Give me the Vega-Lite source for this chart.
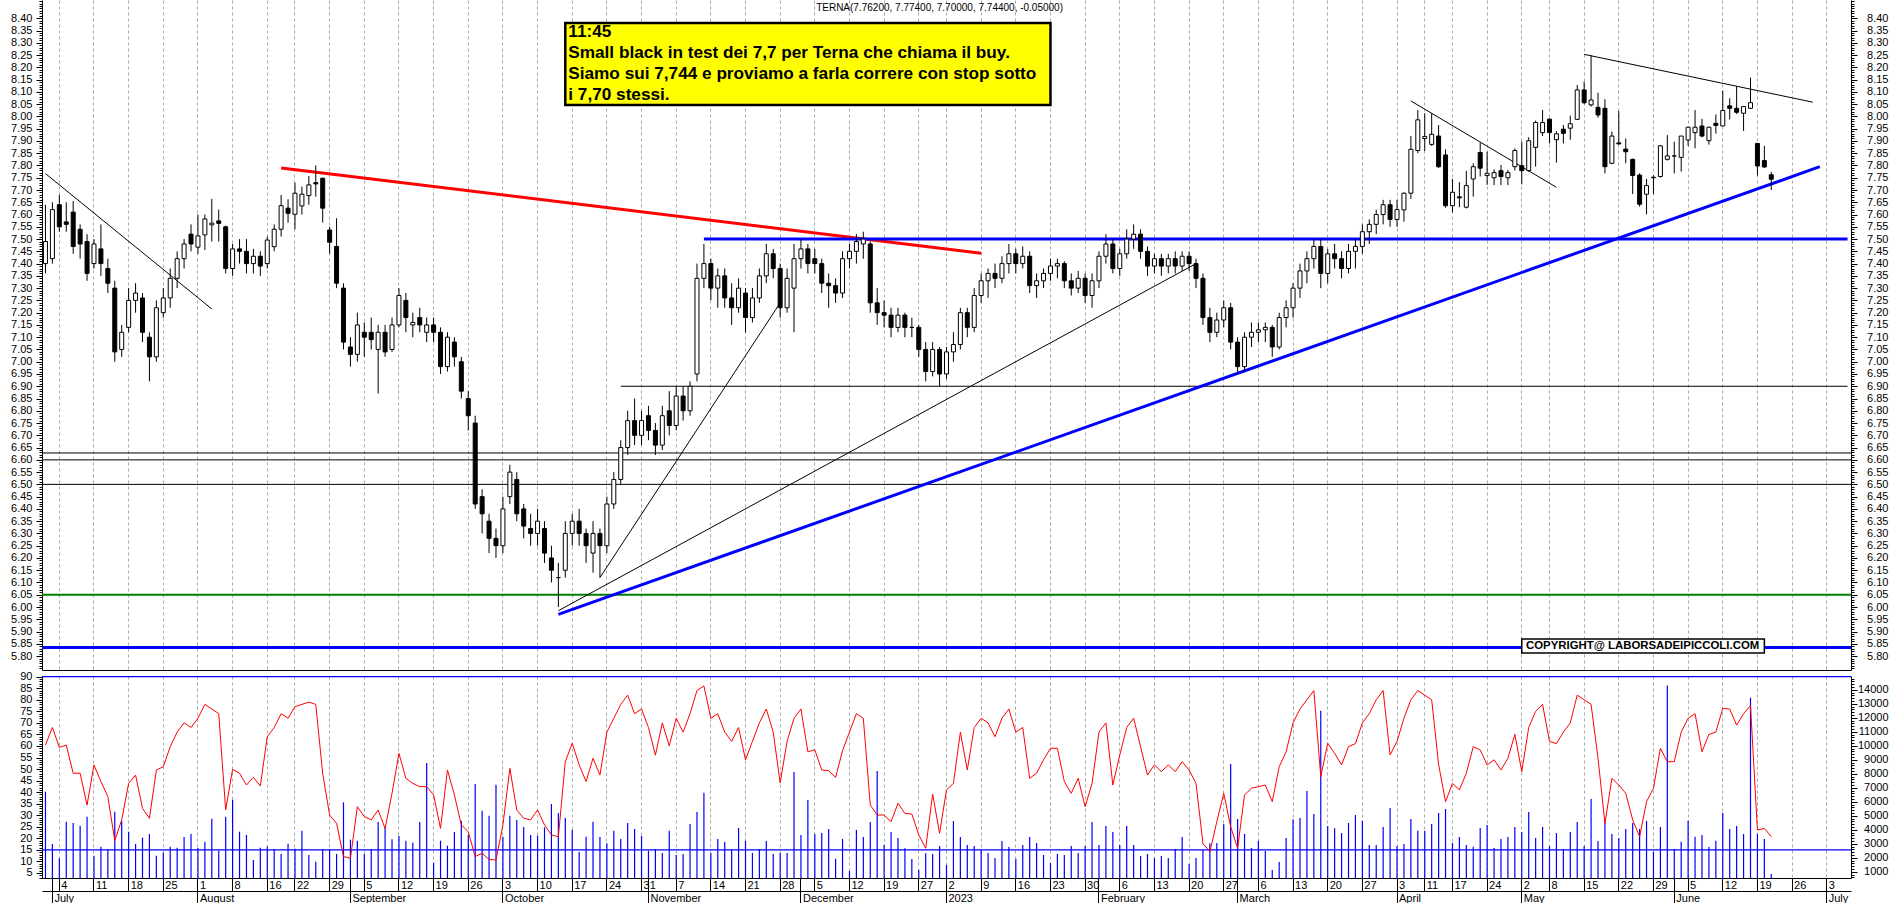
{
"$schema":"https://vega.github.io/schema/vega-lite/v6.json",
"padding":0,
"autosize":{"type":"pad"},
"background":"white",
"bounds":"flush",
"spacing":6,
"config":{"view":{"stroke":null},"axis":{"labelFont":"Liberation Sans","labelFontSize":11,"labelColor":"#000000","tickColor":"#000000","domainColor":"#000000","tickWidth":1,"domainWidth":1,"title":null}},
"datasets":{
"bars":[
{"d":"2022-06-30","o":7.40,"h":7.64,"l":7.36,"c":7.49,"v":6716,"r":60.4},
{"d":"2022-07-01","o":7.42,"h":7.65,"l":7.40,"c":7.62,"v":2978,"r":68},
{"d":"2022-07-04","o":7.64,"h":7.68,"l":7.53,"c":7.55,"v":1954,"r":59.4},
{"d":"2022-07-05","o":7.57,"h":7.65,"l":7.53,"c":7.56,"v":4574,"r":60.4},
{"d":"2022-07-06","o":7.61,"h":7.655,"l":7.44,"c":7.47,"v":4478,"r":48.2},
{"d":"2022-07-07","o":7.54,"h":7.56,"l":7.42,"c":7.48,"v":4288,"r":48.2},
{"d":"2022-07-08","o":7.49,"h":7.52,"l":7.33,"c":7.36,"v":4930,"r":34.4},
{"d":"2022-07-11","o":7.40,"h":7.50,"l":7.38,"c":7.48,"v":2145,"r":51.8},
{"d":"2022-07-12","o":7.46,"h":7.56,"l":7.35,"c":7.40,"v":2788,"r":44.6},
{"d":"2022-07-13","o":7.38,"h":7.42,"l":7.28,"c":7.32,"v":2597,"r":38.1},
{"d":"2022-07-14","o":7.30,"h":7.33,"l":7.00,"c":7.04,"v":5288,"r":19},
{"d":"2022-07-15","o":7.05,"h":7.15,"l":7.02,"c":7.12,"v":4645,"r":28},
{"d":"2022-07-18","o":7.14,"h":7.30,"l":7.12,"c":7.25,"v":3859,"r":43.8},
{"d":"2022-07-19","o":7.25,"h":7.32,"l":7.20,"c":7.28,"v":2978,"r":47.4},
{"d":"2022-07-20","o":7.26,"h":7.28,"l":7.08,"c":7.12,"v":3431,"r":33},
{"d":"2022-07-21","o":7.10,"h":7.12,"l":6.92,"c":7.02,"v":3693,"r":28.7},
{"d":"2022-07-22","o":7.02,"h":7.25,"l":7.00,"c":7.22,"v":2145,"r":49.6},
{"d":"2022-07-25","o":7.20,"h":7.30,"l":7.18,"c":7.26,"v":2359,"r":51},
{"d":"2022-07-26","o":7.26,"h":7.38,"l":7.22,"c":7.34,"v":2788,"r":59.7},
{"d":"2022-07-27","o":7.34,"h":7.45,"l":7.30,"c":7.42,"v":2716,"r":66},
{"d":"2022-07-28","o":7.42,"h":7.50,"l":7.38,"c":7.48,"v":3478,"r":70},
{"d":"2022-07-29","o":7.52,"h":7.56,"l":7.45,"c":7.48,"v":3693,"r":68},
{"d":"2022-08-01","o":7.467,"h":7.60,"l":7.44,"c":7.513,"v":2693,"r":72},
{"d":"2022-08-02","o":7.517,"h":7.60,"l":7.455,"c":7.582,"v":3145,"r":78},
{"d":"2022-08-03","o":7.558,"h":7.664,"l":7.49,"c":7.565,"v":4788,"r":76},
{"d":"2022-08-04","o":7.574,"h":7.62,"l":7.49,"c":7.564,"v":2502,"r":74},
{"d":"2022-08-05","o":7.55,"h":7.555,"l":7.36,"c":7.38,"v":4930,"r":32.3},
{"d":"2022-08-08","o":7.38,"h":7.48,"l":7.35,"c":7.46,"v":6145,"r":49.9},
{"d":"2022-08-09","o":7.46,"h":7.50,"l":7.40,"c":7.45,"v":3859,"r":48.2},
{"d":"2022-08-10","o":7.45,"h":7.50,"l":7.36,"c":7.40,"v":3621,"r":43.1},
{"d":"2022-08-11","o":7.40,"h":7.46,"l":7.36,"c":7.43,"v":1835,"r":46.4},
{"d":"2022-08-12","o":7.43,"h":7.45,"l":7.35,"c":7.39,"v":2716,"r":42.7},
{"d":"2022-08-16","o":7.40,"h":7.51,"l":7.38,"c":7.496,"v":2788,"r":64},
{"d":"2022-08-17","o":7.469,"h":7.56,"l":7.45,"c":7.54,"v":2621,"r":68},
{"d":"2022-08-18","o":7.54,"h":7.68,"l":7.51,"c":7.636,"v":2264,"r":74},
{"d":"2022-08-19","o":7.626,"h":7.662,"l":7.567,"c":7.605,"v":3002,"r":72},
{"d":"2022-08-22","o":7.601,"h":7.73,"l":7.54,"c":7.687,"v":2645,"r":77},
{"d":"2022-08-23","o":7.635,"h":7.714,"l":7.60,"c":7.683,"v":3931,"r":78},
{"d":"2022-08-24","o":7.677,"h":7.757,"l":7.64,"c":7.721,"v":2193,"r":79},
{"d":"2022-08-25","o":7.73,"h":7.80,"l":7.673,"c":7.725,"v":1716,"r":78},
{"d":"2022-08-26","o":7.748,"h":7.75,"l":7.567,"c":7.626,"v":2621,"r":48},
{"d":"2022-08-29","o":7.537,"h":7.55,"l":7.44,"c":7.487,"v":2597,"r":30.1},
{"d":"2022-08-30","o":7.47,"h":7.585,"l":7.30,"c":7.32,"v":2264,"r":26.5},
{"d":"2022-08-31","o":7.30,"h":7.32,"l":7.05,"c":7.08,"v":5955,"r":12.1},
{"d":"2022-09-01","o":7.06,"h":7.10,"l":6.98,"c":7.03,"v":3288,"r":11.4},
{"d":"2022-09-02","o":7.03,"h":7.20,"l":7.00,"c":7.15,"v":3216,"r":33.7},
{"d":"2022-09-05","o":7.12,"h":7.16,"l":7.02,"c":7.10,"v":2264,"r":29.4},
{"d":"2022-09-06","o":7.12,"h":7.18,"l":7.05,"c":7.09,"v":2621,"r":28},
{"d":"2022-09-07","o":7.05,"h":7.15,"l":6.87,"c":7.12,"v":4550,"r":32.3},
{"d":"2022-09-08","o":7.12,"h":7.15,"l":7.02,"c":7.04,"v":4145,"r":24.3},
{"d":"2022-09-09","o":7.05,"h":7.18,"l":7.04,"c":7.15,"v":3312,"r":39.5},
{"d":"2022-09-12","o":7.15,"h":7.30,"l":7.14,"c":7.27,"v":3550,"r":56.8},
{"d":"2022-09-13","o":7.25,"h":7.28,"l":7.12,"c":7.18,"v":3216,"r":46},
{"d":"2022-09-14","o":7.15,"h":7.20,"l":7.10,"c":7.16,"v":3074,"r":43.8},
{"d":"2022-09-15","o":7.18,"h":7.22,"l":7.12,"c":7.15,"v":4550,"r":42.4},
{"d":"2022-09-16","o":7.12,"h":7.18,"l":7.08,"c":7.15,"v":8764,"r":42.4},
{"d":"2022-09-19","o":7.15,"h":7.18,"l":7.08,"c":7.12,"v":1645,"r":38.8},
{"d":"2022-09-20","o":7.12,"h":7.14,"l":6.95,"c":6.98,"v":3216,"r":24.3},
{"d":"2022-09-21","o":6.98,"h":7.12,"l":6.96,"c":7.10,"v":2859,"r":49.6},
{"d":"2022-09-22","o":7.08,"h":7.10,"l":6.98,"c":7.02,"v":3836,"r":38.8},
{"d":"2022-09-23","o":7.00,"h":7.02,"l":6.85,"c":6.88,"v":4645,"r":25.8},
{"d":"2022-09-26","o":6.85,"h":6.88,"l":6.72,"c":6.78,"v":3621,"r":22.9},
{"d":"2022-09-27","o":6.75,"h":6.78,"l":6.40,"c":6.42,"v":7264,"r":12.1},
{"d":"2022-09-28","o":6.45,"h":6.48,"l":6.30,"c":6.38,"v":5359,"r":13.5},
{"d":"2022-09-29","o":6.35,"h":6.38,"l":6.22,"c":6.28,"v":5002,"r":10.9},
{"d":"2022-09-30","o":6.28,"h":6.32,"l":6.20,"c":6.25,"v":7216,"r":10.6},
{"d":"2022-10-03","o":6.25,"h":6.45,"l":6.22,"c":6.40,"v":3502,"r":25.8},
{"d":"2022-10-04","o":6.45,"h":6.58,"l":6.42,"c":6.55,"v":5002,"r":50.3},
{"d":"2022-10-05","o":6.52,"h":6.55,"l":6.35,"c":6.38,"v":4693,"r":32.3},
{"d":"2022-10-06","o":6.40,"h":6.42,"l":6.28,"c":6.33,"v":4193,"r":28.7},
{"d":"2022-10-07","o":6.32,"h":6.38,"l":6.25,"c":6.30,"v":3621,"r":28},
{"d":"2022-10-10","o":6.30,"h":6.40,"l":6.25,"c":6.35,"v":3574,"r":32.3},
{"d":"2022-10-11","o":6.32,"h":6.35,"l":6.18,"c":6.22,"v":4169,"r":25.8},
{"d":"2022-10-12","o":6.20,"h":6.25,"l":6.10,"c":6.15,"v":5835,"r":21.5},
{"d":"2022-10-13","o":6.12,"h":6.18,"l":6.00,"c":6.12,"v":5192,"r":20.7},
{"d":"2022-10-14","o":6.15,"h":6.35,"l":6.12,"c":6.30,"v":4835,"r":53.2},
{"d":"2022-10-17","o":6.30,"h":6.38,"l":6.25,"c":6.35,"v":4002,"r":61.2},
{"d":"2022-10-18","o":6.35,"h":6.40,"l":6.25,"c":6.30,"v":2407,"r":51.8},
{"d":"2022-10-19","o":6.30,"h":6.32,"l":6.18,"c":6.25,"v":3502,"r":44.6},
{"d":"2022-10-20","o":6.22,"h":6.35,"l":6.14,"c":6.30,"v":4574,"r":54.7},
{"d":"2022-10-21","o":6.30,"h":6.32,"l":6.12,"c":6.25,"v":3478,"r":47.4},
{"d":"2022-10-24","o":6.25,"h":6.45,"l":6.22,"c":6.42,"v":3026,"r":66},
{"d":"2022-10-25","o":6.42,"h":6.55,"l":6.40,"c":6.52,"v":3931,"r":72},
{"d":"2022-10-26","o":6.52,"h":6.68,"l":6.50,"c":6.65,"v":3336,"r":78},
{"d":"2022-10-27","o":6.65,"h":6.80,"l":6.62,"c":6.76,"v":4478,"r":82},
{"d":"2022-10-28","o":6.76,"h":6.85,"l":6.66,"c":6.70,"v":4050,"r":74},
{"d":"2022-10-31","o":6.70,"h":6.80,"l":6.66,"c":6.76,"v":3550,"r":76},
{"d":"2022-11-01","o":6.78,"h":6.82,"l":6.68,"c":6.72,"v":2502,"r":68},
{"d":"2022-11-02","o":6.72,"h":6.75,"l":6.62,"c":6.66,"v":2597,"r":56},
{"d":"2022-11-03","o":6.66,"h":6.82,"l":6.64,"c":6.78,"v":2336,"r":70},
{"d":"2022-11-04","o":6.80,"h":6.88,"l":6.70,"c":6.74,"v":3931,"r":60},
{"d":"2022-11-07","o":6.74,"h":6.90,"l":6.72,"c":6.86,"v":2193,"r":72},
{"d":"2022-11-08","o":6.86,"h":6.90,"l":6.76,"c":6.80,"v":2264,"r":66},
{"d":"2022-11-09","o":6.80,"h":6.92,"l":6.78,"c":6.90,"v":4407,"r":74},
{"d":"2022-11-10","o":6.95,"h":7.40,"l":6.92,"c":7.34,"v":5264,"r":84},
{"d":"2022-11-11","o":7.34,"h":7.48,"l":7.30,"c":7.40,"v":6645,"r":86},
{"d":"2022-11-14","o":7.40,"h":7.42,"l":7.25,"c":7.30,"v":2336,"r":72},
{"d":"2022-11-15","o":7.30,"h":7.38,"l":7.22,"c":7.35,"v":3336,"r":74},
{"d":"2022-11-16","o":7.35,"h":7.38,"l":7.22,"c":7.26,"v":3121,"r":66},
{"d":"2022-11-17","o":7.26,"h":7.32,"l":7.15,"c":7.22,"v":2574,"r":62},
{"d":"2022-11-18","o":7.22,"h":7.34,"l":7.20,"c":7.30,"v":4121,"r":68},
{"d":"2022-11-21","o":7.28,"h":7.30,"l":7.12,"c":7.18,"v":3193,"r":54},
{"d":"2022-11-22","o":7.18,"h":7.30,"l":7.16,"c":7.26,"v":2336,"r":62},
{"d":"2022-11-23","o":7.26,"h":7.38,"l":7.24,"c":7.35,"v":2597,"r":70},
{"d":"2022-11-24","o":7.35,"h":7.48,"l":7.32,"c":7.44,"v":3193,"r":76},
{"d":"2022-11-25","o":7.44,"h":7.46,"l":7.34,"c":7.38,"v":2264,"r":66},
{"d":"2022-11-28","o":7.38,"h":7.40,"l":7.18,"c":7.22,"v":2336,"r":44},
{"d":"2022-11-29","o":7.22,"h":7.38,"l":7.20,"c":7.34,"v":2336,"r":62},
{"d":"2022-11-30","o":7.30,"h":7.48,"l":7.12,"c":7.42,"v":8121,"r":72},
{"d":"2022-12-01","o":7.42,"h":7.50,"l":7.38,"c":7.46,"v":3621,"r":76},
{"d":"2022-12-02","o":7.46,"h":7.48,"l":7.36,"c":7.40,"v":6121,"r":57.5},
{"d":"2022-12-05","o":7.42,"h":7.46,"l":7.36,"c":7.40,"v":3693,"r":58.3},
{"d":"2022-12-06","o":7.40,"h":7.42,"l":7.28,"c":7.32,"v":3764,"r":49.6},
{"d":"2022-12-07","o":7.32,"h":7.36,"l":7.22,"c":7.31,"v":4050,"r":49.3},
{"d":"2022-12-08","o":7.31,"h":7.34,"l":7.24,"c":7.28,"v":1931,"r":46.4},
{"d":"2022-12-09","o":7.28,"h":7.45,"l":7.26,"c":7.42,"v":3336,"r":58},
{"d":"2022-12-12","o":7.42,"h":7.48,"l":7.38,"c":7.45,"v":1050,"r":66},
{"d":"2022-12-13","o":7.45,"h":7.52,"l":7.40,"c":7.49,"v":3978,"r":74},
{"d":"2022-12-14","o":7.48,"h":7.53,"l":7.42,"c":7.50,"v":3478,"r":72},
{"d":"2022-12-15","o":7.48,"h":7.49,"l":7.20,"c":7.24,"v":4550,"r":34.4},
{"d":"2022-12-16","o":7.24,"h":7.30,"l":7.15,"c":7.20,"v":8193,"r":30.1},
{"d":"2022-12-19","o":7.20,"h":7.25,"l":7.14,"c":7.19,"v":2907,"r":30.1},
{"d":"2022-12-20","o":7.19,"h":7.22,"l":7.10,"c":7.14,"v":3836,"r":27.2},
{"d":"2022-12-21","o":7.14,"h":7.22,"l":7.12,"c":7.19,"v":3407,"r":35.2},
{"d":"2022-12-22","o":7.19,"h":7.20,"l":7.10,"c":7.14,"v":2669,"r":30.8},
{"d":"2022-12-23","o":7.14,"h":7.18,"l":7.10,"c":7.14,"v":1907,"r":30.5},
{"d":"2022-12-27","o":7.14,"h":7.15,"l":7.02,"c":7.05,"v":1121,"r":21.5},
{"d":"2022-12-28","o":7.05,"h":7.08,"l":6.92,"c":6.96,"v":2312,"r":15.7},
{"d":"2022-12-29","o":6.96,"h":7.08,"l":6.94,"c":7.05,"v":2264,"r":39.2},
{"d":"2022-12-30","o":7.05,"h":7.06,"l":6.90,"c":6.95,"v":2836,"r":22.2},
{"d":"2023-01-02","o":6.95,"h":7.06,"l":6.93,"c":7.04,"v":1478,"r":41},
{"d":"2023-01-03","o":7.04,"h":7.12,"l":7.00,"c":7.07,"v":4621,"r":43.8},
{"d":"2023-01-04","o":7.07,"h":7.22,"l":7.05,"c":7.20,"v":3478,"r":66},
{"d":"2023-01-05","o":7.20,"h":7.22,"l":7.10,"c":7.14,"v":2907,"r":49.6},
{"d":"2023-01-06","o":7.14,"h":7.30,"l":7.12,"c":7.27,"v":2836,"r":68},
{"d":"2023-01-09","o":7.27,"h":7.36,"l":7.24,"c":7.33,"v":2550,"r":72},
{"d":"2023-01-10","o":7.33,"h":7.38,"l":7.26,"c":7.36,"v":2336,"r":70},
{"d":"2023-01-11","o":7.36,"h":7.40,"l":7.30,"c":7.34,"v":1979,"r":64},
{"d":"2023-01-12","o":7.34,"h":7.43,"l":7.32,"c":7.40,"v":3193,"r":72},
{"d":"2023-01-13","o":7.40,"h":7.48,"l":7.36,"c":7.44,"v":2764,"r":76},
{"d":"2023-01-16","o":7.44,"h":7.46,"l":7.36,"c":7.40,"v":1907,"r":66},
{"d":"2023-01-17","o":7.40,"h":7.47,"l":7.38,"c":7.43,"v":2907,"r":68},
{"d":"2023-01-18","o":7.43,"h":7.45,"l":7.28,"c":7.31,"v":3478,"r":46},
{"d":"2023-01-19","o":7.31,"h":7.36,"l":7.26,"c":7.33,"v":3050,"r":48.2},
{"d":"2023-01-20","o":7.33,"h":7.38,"l":7.30,"c":7.36,"v":2193,"r":54},
{"d":"2023-01-23","o":7.36,"h":7.42,"l":7.33,"c":7.39,"v":1621,"r":59},
{"d":"2023-01-24","o":7.39,"h":7.42,"l":7.34,"c":7.40,"v":2264,"r":59},
{"d":"2023-01-25","o":7.40,"h":7.41,"l":7.30,"c":7.33,"v":2193,"r":44.6},
{"d":"2023-01-26","o":7.33,"h":7.36,"l":7.27,"c":7.30,"v":2836,"r":39.5},
{"d":"2023-01-27","o":7.30,"h":7.37,"l":7.28,"c":7.34,"v":2336,"r":46},
{"d":"2023-01-30","o":7.34,"h":7.36,"l":7.24,"c":7.27,"v":2836,"r":33.7},
{"d":"2023-01-31","o":7.27,"h":7.36,"l":7.22,"c":7.33,"v":4550,"r":43.8},
{"d":"2023-02-01","o":7.33,"h":7.45,"l":7.30,"c":7.43,"v":2907,"r":66},
{"d":"2023-02-02","o":7.43,"h":7.52,"l":7.40,"c":7.48,"v":4264,"r":70},
{"d":"2023-02-03","o":7.48,"h":7.50,"l":7.36,"c":7.38,"v":3836,"r":43.1},
{"d":"2023-02-06","o":7.38,"h":7.46,"l":7.35,"c":7.44,"v":2907,"r":56.1},
{"d":"2023-02-07","o":7.44,"h":7.54,"l":7.42,"c":7.50,"v":4264,"r":68},
{"d":"2023-02-08","o":7.50,"h":7.56,"l":7.46,"c":7.52,"v":2907,"r":72},
{"d":"2023-02-09","o":7.52,"h":7.54,"l":7.42,"c":7.45,"v":2121,"r":59.7},
{"d":"2023-02-10","o":7.45,"h":7.47,"l":7.35,"c":7.39,"v":2264,"r":47.4},
{"d":"2023-02-13","o":7.39,"h":7.44,"l":7.36,"c":7.42,"v":1979,"r":51.8},
{"d":"2023-02-14","o":7.42,"h":7.44,"l":7.35,"c":7.39,"v":2121,"r":48.9},
{"d":"2023-02-15","o":7.39,"h":7.44,"l":7.36,"c":7.42,"v":1979,"r":51.8},
{"d":"2023-02-16","o":7.42,"h":7.45,"l":7.36,"c":7.39,"v":2621,"r":48.9},
{"d":"2023-02-17","o":7.39,"h":7.45,"l":7.37,"c":7.43,"v":3478,"r":53.2},
{"d":"2023-02-20","o":7.43,"h":7.45,"l":7.37,"c":7.40,"v":1550,"r":49.6},
{"d":"2023-02-21","o":7.40,"h":7.42,"l":7.30,"c":7.34,"v":1979,"r":43.8},
{"d":"2023-02-22","o":7.34,"h":7.36,"l":7.15,"c":7.18,"v":2550,"r":17.8},
{"d":"2023-02-23","o":7.18,"h":7.22,"l":7.08,"c":7.12,"v":3026,"r":14.2},
{"d":"2023-02-24","o":7.12,"h":7.20,"l":7.10,"c":7.17,"v":3050,"r":27.2},
{"d":"2023-02-27","o":7.17,"h":7.25,"l":7.14,"c":7.22,"v":4407,"r":39.5},
{"d":"2023-02-28","o":7.22,"h":7.24,"l":7.05,"c":7.08,"v":8693,"r":25},
{"d":"2023-03-01","o":7.08,"h":7.10,"l":6.95,"c":6.98,"v":4764,"r":15.7},
{"d":"2023-03-02","o":6.98,"h":7.12,"l":6.96,"c":7.10,"v":3693,"r":38.8},
{"d":"2023-03-03","o":7.10,"h":7.16,"l":7.06,"c":7.12,"v":2693,"r":41.7},
{"d":"2023-03-06","o":7.12,"h":7.16,"l":7.08,"c":7.13,"v":3193,"r":42.4},
{"d":"2023-03-07","o":7.13,"h":7.16,"l":7.08,"c":7.14,"v":2479,"r":43.1},
{"d":"2023-03-08","o":7.14,"h":7.15,"l":7.02,"c":7.06,"v":1121,"r":35.9},
{"d":"2023-03-09","o":7.06,"h":7.20,"l":7.05,"c":7.18,"v":1693,"r":51},
{"d":"2023-03-10","o":7.18,"h":7.25,"l":7.14,"c":7.22,"v":3407,"r":57.5},
{"d":"2023-03-13","o":7.22,"h":7.32,"l":7.18,"c":7.30,"v":4750,"r":70},
{"d":"2023-03-14","o":7.30,"h":7.40,"l":7.26,"c":7.37,"v":4835,"r":76},
{"d":"2023-03-15","o":7.37,"h":7.45,"l":7.32,"c":7.42,"v":6764,"r":80},
{"d":"2023-03-16","o":7.42,"h":7.50,"l":7.38,"c":7.47,"v":5121,"r":84},
{"d":"2023-03-17","o":7.47,"h":7.50,"l":7.30,"c":7.36,"v":12500,"r":46.7},
{"d":"2023-03-20","o":7.36,"h":7.46,"l":7.32,"c":7.44,"v":4264,"r":61.2},
{"d":"2023-03-21","o":7.44,"h":7.48,"l":7.38,"c":7.42,"v":4098,"r":56.8},
{"d":"2023-03-22","o":7.42,"h":7.45,"l":7.34,"c":7.38,"v":3764,"r":51.8},
{"d":"2023-03-23","o":7.38,"h":7.48,"l":7.36,"c":7.45,"v":4478,"r":59.7},
{"d":"2023-03-24","o":7.45,"h":7.50,"l":7.38,"c":7.47,"v":5050,"r":61},
{"d":"2023-03-27","o":7.47,"h":7.56,"l":7.44,"c":7.53,"v":4645,"r":70},
{"d":"2023-03-28","o":7.53,"h":7.58,"l":7.48,"c":7.56,"v":2907,"r":74},
{"d":"2023-03-29","o":7.56,"h":7.62,"l":7.52,"c":7.60,"v":2907,"r":80},
{"d":"2023-03-30","o":7.60,"h":7.66,"l":7.56,"c":7.64,"v":4193,"r":84},
{"d":"2023-03-31","o":7.64,"h":7.66,"l":7.55,"c":7.58,"v":5550,"r":56.1},
{"d":"2023-04-03","o":7.58,"h":7.66,"l":7.55,"c":7.62,"v":2836,"r":62},
{"d":"2023-04-04","o":7.619,"h":7.69,"l":7.571,"c":7.687,"v":2978,"r":72},
{"d":"2023-04-05","o":7.687,"h":7.92,"l":7.664,"c":7.866,"v":4764,"r":80},
{"d":"2023-04-06","o":7.861,"h":8.026,"l":7.85,"c":7.986,"v":3931,"r":84},
{"d":"2023-04-11","o":7.91,"h":8.013,"l":7.859,"c":7.918,"v":3931,"r":82},
{"d":"2023-04-12","o":7.886,"h":8.013,"l":7.88,"c":7.927,"v":4407,"r":80},
{"d":"2023-04-13","o":7.92,"h":7.965,"l":7.79,"c":7.795,"v":5193,"r":52},
{"d":"2023-04-14","o":7.843,"h":7.866,"l":7.628,"c":7.636,"v":5478,"r":35.9},
{"d":"2023-04-17","o":7.636,"h":7.745,"l":7.609,"c":7.691,"v":3050,"r":43.8},
{"d":"2023-04-18","o":7.672,"h":7.732,"l":7.63,"c":7.668,"v":3478,"r":41},
{"d":"2023-04-19","o":7.63,"h":7.778,"l":7.625,"c":7.718,"v":2907,"r":48.2},
{"d":"2023-04-20","o":7.745,"h":7.809,"l":7.673,"c":7.795,"v":2788,"r":59.7},
{"d":"2023-04-21","o":7.853,"h":7.893,"l":7.755,"c":7.789,"v":4121,"r":58.3},
{"d":"2023-04-24","o":7.759,"h":7.856,"l":7.721,"c":7.768,"v":4336,"r":51.8},
{"d":"2023-04-25","o":7.75,"h":7.784,"l":7.72,"c":7.771,"v":2693,"r":54},
{"d":"2023-04-26","o":7.779,"h":7.802,"l":7.72,"c":7.755,"v":3336,"r":49.6},
{"d":"2023-04-27","o":7.75,"h":7.782,"l":7.72,"c":7.771,"v":3478,"r":54.7},
{"d":"2023-04-28","o":7.795,"h":7.87,"l":7.78,"c":7.861,"v":4193,"r":65},
{"d":"2023-05-02","o":7.799,"h":7.897,"l":7.723,"c":7.779,"v":3836,"r":48.9},
{"d":"2023-05-03","o":7.779,"h":7.915,"l":7.775,"c":7.901,"v":5264,"r":68},
{"d":"2023-05-04","o":7.874,"h":7.983,"l":7.795,"c":7.975,"v":3407,"r":75},
{"d":"2023-05-05","o":7.934,"h":8.026,"l":7.92,"c":7.975,"v":4193,"r":78},
{"d":"2023-05-08","o":7.989,"h":7.992,"l":7.89,"c":7.934,"v":2836,"r":62},
{"d":"2023-05-09","o":7.905,"h":7.94,"l":7.812,"c":7.929,"v":3764,"r":61},
{"d":"2023-05-10","o":7.948,"h":7.965,"l":7.89,"c":7.931,"v":2621,"r":66},
{"d":"2023-05-11","o":7.952,"h":8.003,"l":7.905,"c":7.970,"v":3836,"r":70},
{"d":"2023-05-12","o":7.988,"h":8.128,"l":7.985,"c":8.108,"v":4550,"r":82},
{"d":"2023-05-15","o":8.108,"h":8.142,"l":8.05,"c":8.056,"v":2836,"r":80},
{"d":"2023-05-16","o":8.047,"h":8.25,"l":8.04,"c":8.067,"v":6193,"r":78},
{"d":"2023-05-17","o":8.037,"h":8.097,"l":7.995,"c":8.006,"v":3193,"r":54.7},
{"d":"2023-05-18","o":8.033,"h":8.07,"l":7.768,"c":7.795,"v":4550,"r":26.5},
{"d":"2023-05-19","o":7.809,"h":7.938,"l":7.805,"c":7.920,"v":3693,"r":46},
{"d":"2023-05-22","o":7.892,"h":8.022,"l":7.885,"c":7.888,"v":3407,"r":43.1},
{"d":"2023-05-23","o":7.867,"h":7.91,"l":7.809,"c":7.856,"v":4050,"r":39.5},
{"d":"2023-05-24","o":7.825,"h":7.828,"l":7.684,"c":7.759,"v":4478,"r":28},
{"d":"2023-05-25","o":7.761,"h":7.768,"l":7.632,"c":7.642,"v":4050,"r":20.7},
{"d":"2023-05-26","o":7.683,"h":7.745,"l":7.601,"c":7.718,"v":4621,"r":35.9},
{"d":"2023-05-29","o":7.752,"h":7.76,"l":7.684,"c":7.750,"v":2431,"r":41.7},
{"d":"2023-05-30","o":7.755,"h":7.884,"l":7.75,"c":7.880,"v":4193,"r":59},
{"d":"2023-05-31","o":7.825,"h":7.924,"l":7.82,"c":7.839,"v":14300,"r":53.2},
{"d":"2023-06-01","o":7.839,"h":7.897,"l":7.768,"c":7.839,"v":2621,"r":53.2},
{"d":"2023-06-02","o":7.833,"h":7.92,"l":7.775,"c":7.920,"v":3145,"r":66},
{"d":"2023-06-05","o":7.904,"h":7.958,"l":7.880,"c":7.956,"v":4645,"r":72},
{"d":"2023-06-06","o":7.934,"h":8.026,"l":7.870,"c":7.956,"v":3502,"r":74},
{"d":"2023-06-07","o":7.961,"h":7.99,"l":7.915,"c":7.920,"v":3621,"r":57.5},
{"d":"2023-06-08","o":7.901,"h":7.958,"l":7.885,"c":7.956,"v":2764,"r":65},
{"d":"2023-06-09","o":7.972,"h":8.008,"l":7.93,"c":7.963,"v":3216,"r":66},
{"d":"2023-06-12","o":7.961,"h":8.105,"l":7.961,"c":8.024,"v":5193,"r":76.3},
{"d":"2023-06-13","o":8.043,"h":8.074,"l":7.988,"c":8.033,"v":4050,"r":76},
{"d":"2023-06-14","o":8.033,"h":8.124,"l":8.01,"c":8.017,"v":4264,"r":69},
{"d":"2023-06-15","o":8.013,"h":8.04,"l":7.941,"c":8.040,"v":3693,"r":74},
{"d":"2023-06-16","o":8.033,"h":8.158,"l":8.03,"c":8.056,"v":13430,"r":77.5},
{"d":"2023-06-19","o":7.890,"h":7.89,"l":7.759,"c":7.798,"v":3693,"r":23.6},
{"d":"2023-06-20","o":7.820,"h":7.880,"l":7.790,"c":7.794,"v":3336,"r":24.3},
{"d":"2023-06-21","o":7.762,"h":7.774,"l":7.700,"c":7.744,"v":836,"r":20.7}
],
"tl":[
{"id":"dl1","d":"2022-06-30","p":7.767},{"id":"dl1","d":"2022-08-03","p":7.215},
{"id":"res","d":"2022-08-18","p":7.79},{"id":"res","d":"2023-01-09","p":7.442},
{"id":"sup","d":"2022-10-13","p":5.97},{"id":"sup","d":"2023-06-30","p":7.795},
{"id":"a","d":"2022-10-21","p":6.12},{"id":"a","d":"2022-11-28","p":7.24},
{"id":"b","d":"2022-10-13","p":5.985},{"id":"b","d":"2023-02-21","p":7.40},
{"id":"dl2","d":"2023-04-05","p":8.063},{"id":"dl2","d":"2023-05-09","p":7.711},
{"id":"dl3","d":"2023-05-15","p":8.253},{"id":"dl3","d":"2023-06-29","p":8.058},
{"id":"h750","d":"2022-11-11","p":7.50},{"id":"h750","d":"2023-07-06","p":7.50},
{"id":"h690","d":"2022-10-26","p":6.90},{"id":"h690","d":"2023-07-06","p":6.90}
],
"hl":[{"id":"r1","p":6.628},{"id":"r2","p":6.60},{"id":"r3","p":6.50},{"id":"s1","p":6.05},{"id":"s2","p":5.835}],
"rl":[{"id":"top","r":90},{"id":"low","r":15}],
"note":[{"k":"n"}]
},
"vconcat":[
{
"width":1809,"height":670,
"resolve":{"axis":{"x":"independent","y":"independent"}},
"layer":[
{"data":{"name":"hl"},"transform":[{"filter":"indexof(['r1','r2','r3'], datum.id) >= 0"}],
 "mark":{"type":"rule","color":"#000000","strokeWidth":1},
 "encoding":{"y":{"field":"p","type":"quantitative","scale":{"domain":[5.7433,8.4746],"nice":false,"zero":false},
   "axis":{"orient":"left","values":[5.8,5.85,5.9,5.95,6,6.05,6.1,6.15,6.2,6.25,6.3,6.35,6.4,6.45,6.5,6.55,6.6,6.65,6.7,6.75,6.8,6.85,6.9,6.95,7,7.05,7.1,7.15,7.2,7.25,7.3,7.35,7.4,7.45,7.5,7.55,7.6,7.65,7.7,7.75,7.8,7.85,7.9,7.95,8,8.05,8.1,8.15,8.2,8.25,8.3,8.35,8.4],"format":".2f","tickSize":6,"labelPadding":4,"labelOverlap":false,"grid":false,"domain":true,"minExtent":42,"maxExtent":42}}}},
{"data":{"name":"hl"},"transform":[{"filter":"datum.id == 's1'"}],
 "mark":{"type":"rule","color":"#008000","strokeWidth":2},
 "encoding":{"y":{"field":"p","type":"quantitative","axis":{"orient":"left","tickCount":270,"labels":false,"tickSize":3,"grid":false,"domain":false,"minExtent":42,"maxExtent":42}}}},
{"data":{"name":"hl"},"transform":[{"filter":"datum.id == 's2'"}],
 "mark":{"type":"rule","color":"#0000ff","strokeWidth":3},
 "encoding":{"y":{"field":"p","type":"quantitative","axis":null}}},
{"data":{"name":"tl"},"transform":[{"filter":"indexof(['dl1','a','b','dl2','dl3','h690'], datum.id) >= 0"}],
 "mark":{"type":"line","color":"#000000","strokeWidth":1},
 "encoding":{"x":{"field":"d","type":"ordinal","axis":null,"scale":{"type":"band","paddingInner":0,"paddingOuter":0,"domain":["2022-06-30","2022-07-01","2022-07-04","2022-07-05","2022-07-06","2022-07-07","2022-07-08","2022-07-11","2022-07-12","2022-07-13","2022-07-14","2022-07-15","2022-07-18","2022-07-19","2022-07-20","2022-07-21","2022-07-22","2022-07-25","2022-07-26","2022-07-27","2022-07-28","2022-07-29","2022-08-01","2022-08-02","2022-08-03","2022-08-04","2022-08-05","2022-08-08","2022-08-09","2022-08-10","2022-08-11","2022-08-12","2022-08-16","2022-08-17","2022-08-18","2022-08-19","2022-08-22","2022-08-23","2022-08-24","2022-08-25","2022-08-26","2022-08-29","2022-08-30","2022-08-31","2022-09-01","2022-09-02","2022-09-05","2022-09-06","2022-09-07","2022-09-08","2022-09-09","2022-09-12","2022-09-13","2022-09-14","2022-09-15","2022-09-16","2022-09-19","2022-09-20","2022-09-21","2022-09-22","2022-09-23","2022-09-26","2022-09-27","2022-09-28","2022-09-29","2022-09-30","2022-10-03","2022-10-04","2022-10-05","2022-10-06","2022-10-07","2022-10-10","2022-10-11","2022-10-12","2022-10-13","2022-10-14","2022-10-17","2022-10-18","2022-10-19","2022-10-20","2022-10-21","2022-10-24","2022-10-25","2022-10-26","2022-10-27","2022-10-28","2022-10-31","2022-11-01","2022-11-02","2022-11-03","2022-11-04","2022-11-07","2022-11-08","2022-11-09","2022-11-10","2022-11-11","2022-11-14","2022-11-15","2022-11-16","2022-11-17","2022-11-18","2022-11-21","2022-11-22","2022-11-23","2022-11-24","2022-11-25","2022-11-28","2022-11-29","2022-11-30","2022-12-01","2022-12-02","2022-12-05","2022-12-06","2022-12-07","2022-12-08","2022-12-09","2022-12-12","2022-12-13","2022-12-14","2022-12-15","2022-12-16","2022-12-19","2022-12-20","2022-12-21","2022-12-22","2022-12-23","2022-12-27","2022-12-28","2022-12-29","2022-12-30","2023-01-02","2023-01-03","2023-01-04","2023-01-05","2023-01-06","2023-01-09","2023-01-10","2023-01-11","2023-01-12","2023-01-13","2023-01-16","2023-01-17","2023-01-18","2023-01-19","2023-01-20","2023-01-23","2023-01-24","2023-01-25","2023-01-26","2023-01-27","2023-01-30","2023-01-31","2023-02-01","2023-02-02","2023-02-03","2023-02-06","2023-02-07","2023-02-08","2023-02-09","2023-02-10","2023-02-13","2023-02-14","2023-02-15","2023-02-16","2023-02-17","2023-02-20","2023-02-21","2023-02-22","2023-02-23","2023-02-24","2023-02-27","2023-02-28","2023-03-01","2023-03-02","2023-03-03","2023-03-06","2023-03-07","2023-03-08","2023-03-09","2023-03-10","2023-03-13","2023-03-14","2023-03-15","2023-03-16","2023-03-17","2023-03-20","2023-03-21","2023-03-22","2023-03-23","2023-03-24","2023-03-27","2023-03-28","2023-03-29","2023-03-30","2023-03-31","2023-04-03","2023-04-04","2023-04-05","2023-04-06","2023-04-11","2023-04-12","2023-04-13","2023-04-14","2023-04-17","2023-04-18","2023-04-19","2023-04-20","2023-04-21","2023-04-24","2023-04-25","2023-04-26","2023-04-27","2023-04-28","2023-05-02","2023-05-03","2023-05-04","2023-05-05","2023-05-08","2023-05-09","2023-05-10","2023-05-11","2023-05-12","2023-05-15","2023-05-16","2023-05-17","2023-05-18","2023-05-19","2023-05-22","2023-05-23","2023-05-24","2023-05-25","2023-05-26","2023-05-29","2023-05-30","2023-05-31","2023-06-01","2023-06-02","2023-06-05","2023-06-06","2023-06-07","2023-06-08","2023-06-09","2023-06-12","2023-06-13","2023-06-14","2023-06-15","2023-06-16","2023-06-19","2023-06-20","2023-06-21","2023-06-22","2023-06-23","2023-06-26","2023-06-27","2023-06-28","2023-06-29","2023-06-30","2023-07-03","2023-07-04","2023-07-05","2023-07-06"]}},
  "y":{"field":"p","type":"quantitative","axis":null},"detail":{"field":"id"}}},
{"data":{"name":"tl"},"transform":[{"filter":"datum.id == 'res'"}],
 "mark":{"type":"line","color":"#ff0000","strokeWidth":3},
 "encoding":{"x":{"field":"d","type":"ordinal","axis":null},"y":{"field":"p","type":"quantitative","axis":null},"detail":{"field":"id"}}},
{"data":{"name":"tl"},"transform":[{"filter":"datum.id == 'sup' || datum.id == 'h750'"}],
 "mark":{"type":"line","color":"#0000ff","strokeWidth":3},
 "encoding":{"x":{"field":"d","type":"ordinal","axis":null},"y":{"field":"p","type":"quantitative","axis":null},"detail":{"field":"id"}}},
{"data":{"name":"bars"},
 "mark":{"type":"rule","color":"#000000","strokeWidth":1},
 "encoding":{"x":{"field":"d","type":"ordinal","axis":{"orient":"bottom","values":["2022-07-04","2022-07-11","2022-07-18","2022-07-25","2022-08-01","2022-08-08","2022-08-16","2022-08-22","2022-08-29","2022-09-05","2022-09-12","2022-09-19","2022-09-26","2022-10-03","2022-10-10","2022-10-17","2022-10-24","2022-10-31","2022-11-07","2022-11-14","2022-11-21","2022-11-28","2022-12-05","2022-12-12","2022-12-19","2022-12-27","2023-01-02","2023-01-09","2023-01-16","2023-01-23","2023-01-30","2023-02-06","2023-02-13","2023-02-20","2023-02-27","2023-03-06","2023-03-13","2023-03-20","2023-03-27","2023-04-03","2023-04-11","2023-04-17","2023-04-24","2023-05-02","2023-05-08","2023-05-15","2023-05-22","2023-05-29","2023-06-05","2023-06-12","2023-06-19","2023-06-26","2023-07-03"],"bandPosition":0.5,"grid":true,"gridDash":[3,3],"gridColor":"#a8a8a8","gridWidth":1,"ticks":false,"labels":false,"domain":true}},
  "y":{"field":"l","type":"quantitative","axis":{"orient":"right","values":[5.8,5.85,5.9,5.95,6,6.05,6.1,6.15,6.2,6.25,6.3,6.35,6.4,6.45,6.5,6.55,6.6,6.65,6.7,6.75,6.8,6.85,6.9,6.95,7,7.05,7.1,7.15,7.2,7.25,7.3,7.35,7.4,7.45,7.5,7.55,7.6,7.65,7.7,7.75,7.8,7.85,7.9,7.95,8,8.05,8.1,8.15,8.2,8.25,8.3,8.35,8.4],"format":".2f","tickSize":6,"labelAlign":"right","labelPadding":31,"labelOverlap":false,"grid":false,"domain":true,"minExtent":39,"maxExtent":39}},
  "y2":{"field":"h"}}},
{"data":{"name":"bars"},
 "mark":{"type":"bar","width":4,"stroke":"#000000","strokeWidth":1},
 "encoding":{"x":{"field":"d","type":"ordinal","axis":null},
  "y":{"field":"o","type":"quantitative","axis":{"orient":"right","tickCount":270,"labels":false,"tickSize":3,"grid":false,"domain":false,"minExtent":39,"maxExtent":39}},
  "y2":{"field":"c"},
  "fill":{"condition":{"test":"datum.c < datum.o","value":"#000000"},"value":"#ffffff"}}},
{"data":{"name":"note"},
 "mark":{"type":"text","text":"TERNA(7.76200, 7.77400, 7.70000, 7.74400, -0.05000)","font":"Liberation Sans","fontSize":10,"align":"center","baseline":"middle","color":"#000000"},
 "encoding":{"x":{"datum":"2022-12-30","type":"ordinal","axis":null},"y":{"datum":8.442,"type":"quantitative","axis":null}}},
{"data":{"name":"note"},
 "mark":{"type":"rect","fill":"#ffff00","stroke":"#000000","strokeWidth":2.5},
 "encoding":{"x":{"datum":"2022-10-14","type":"ordinal","axis":null},"x2":{"datum":"2023-01-23"},"y":{"datum":8.381,"type":"quantitative","axis":null},"y2":{"datum":8.047}}},
{"data":{"name":"note"},
 "mark":{"type":"text","text":["11:45","Small black in test dei 7,7 per Terna che chiama il buy.","Siamo sui 7,744 e proviamo a farla correre con stop sotto","i 7,70 stessi."],"font":"Liberation Sans","fontSize":17.2,"fontWeight":"bold","align":"left","baseline":"top","lineHeight":21,"dx":3,"color":"#000000"},
 "encoding":{"x":{"datum":"2022-10-14","type":"ordinal","axis":null},"y":{"datum":8.379,"type":"quantitative","axis":null}}},
{"data":{"name":"note"},
 "mark":{"type":"rect","fill":"#ffffff","stroke":"#000000","strokeWidth":1.5},
 "encoding":{"x":{"datum":"2023-05-02","type":"ordinal","axis":null},"x2":{"datum":"2023-06-20"},"y":{"datum":5.870,"type":"quantitative","axis":null},"y2":{"datum":5.813}}},
{"data":{"name":"note"},
 "mark":{"type":"text","text":"COPYRIGHT@ LABORSADEIPICCOLI.COM","font":"Liberation Sans","fontSize":11.4,"fontWeight":"bold","align":"center","baseline":"middle","dx":3,"color":"#000000"},
 "encoding":{"x":{"datum":"2023-05-25","type":"ordinal","axis":null},"y":{"datum":5.842,"type":"quantitative","axis":null}}}
]
},
{
"width":1809,"height":202,
"resolve":{"scale":{"y":"independent"},"axis":{"x":"independent","y":"independent"}},
"layer":[
{"data":{"name":"bars"},
 "mark":{"type":"rule","color":"#0000ff","strokeWidth":1.2},
 "encoding":{"x":{"field":"d","type":"ordinal","scale":{"type":"band","paddingInner":0,"paddingOuter":0,"domain":["2022-06-30","2022-07-01","2022-07-04","2022-07-05","2022-07-06","2022-07-07","2022-07-08","2022-07-11","2022-07-12","2022-07-13","2022-07-14","2022-07-15","2022-07-18","2022-07-19","2022-07-20","2022-07-21","2022-07-22","2022-07-25","2022-07-26","2022-07-27","2022-07-28","2022-07-29","2022-08-01","2022-08-02","2022-08-03","2022-08-04","2022-08-05","2022-08-08","2022-08-09","2022-08-10","2022-08-11","2022-08-12","2022-08-16","2022-08-17","2022-08-18","2022-08-19","2022-08-22","2022-08-23","2022-08-24","2022-08-25","2022-08-26","2022-08-29","2022-08-30","2022-08-31","2022-09-01","2022-09-02","2022-09-05","2022-09-06","2022-09-07","2022-09-08","2022-09-09","2022-09-12","2022-09-13","2022-09-14","2022-09-15","2022-09-16","2022-09-19","2022-09-20","2022-09-21","2022-09-22","2022-09-23","2022-09-26","2022-09-27","2022-09-28","2022-09-29","2022-09-30","2022-10-03","2022-10-04","2022-10-05","2022-10-06","2022-10-07","2022-10-10","2022-10-11","2022-10-12","2022-10-13","2022-10-14","2022-10-17","2022-10-18","2022-10-19","2022-10-20","2022-10-21","2022-10-24","2022-10-25","2022-10-26","2022-10-27","2022-10-28","2022-10-31","2022-11-01","2022-11-02","2022-11-03","2022-11-04","2022-11-07","2022-11-08","2022-11-09","2022-11-10","2022-11-11","2022-11-14","2022-11-15","2022-11-16","2022-11-17","2022-11-18","2022-11-21","2022-11-22","2022-11-23","2022-11-24","2022-11-25","2022-11-28","2022-11-29","2022-11-30","2022-12-01","2022-12-02","2022-12-05","2022-12-06","2022-12-07","2022-12-08","2022-12-09","2022-12-12","2022-12-13","2022-12-14","2022-12-15","2022-12-16","2022-12-19","2022-12-20","2022-12-21","2022-12-22","2022-12-23","2022-12-27","2022-12-28","2022-12-29","2022-12-30","2023-01-02","2023-01-03","2023-01-04","2023-01-05","2023-01-06","2023-01-09","2023-01-10","2023-01-11","2023-01-12","2023-01-13","2023-01-16","2023-01-17","2023-01-18","2023-01-19","2023-01-20","2023-01-23","2023-01-24","2023-01-25","2023-01-26","2023-01-27","2023-01-30","2023-01-31","2023-02-01","2023-02-02","2023-02-03","2023-02-06","2023-02-07","2023-02-08","2023-02-09","2023-02-10","2023-02-13","2023-02-14","2023-02-15","2023-02-16","2023-02-17","2023-02-20","2023-02-21","2023-02-22","2023-02-23","2023-02-24","2023-02-27","2023-02-28","2023-03-01","2023-03-02","2023-03-03","2023-03-06","2023-03-07","2023-03-08","2023-03-09","2023-03-10","2023-03-13","2023-03-14","2023-03-15","2023-03-16","2023-03-17","2023-03-20","2023-03-21","2023-03-22","2023-03-23","2023-03-24","2023-03-27","2023-03-28","2023-03-29","2023-03-30","2023-03-31","2023-04-03","2023-04-04","2023-04-05","2023-04-06","2023-04-11","2023-04-12","2023-04-13","2023-04-14","2023-04-17","2023-04-18","2023-04-19","2023-04-20","2023-04-21","2023-04-24","2023-04-25","2023-04-26","2023-04-27","2023-04-28","2023-05-02","2023-05-03","2023-05-04","2023-05-05","2023-05-08","2023-05-09","2023-05-10","2023-05-11","2023-05-12","2023-05-15","2023-05-16","2023-05-17","2023-05-18","2023-05-19","2023-05-22","2023-05-23","2023-05-24","2023-05-25","2023-05-26","2023-05-29","2023-05-30","2023-05-31","2023-06-01","2023-06-02","2023-06-05","2023-06-06","2023-06-07","2023-06-08","2023-06-09","2023-06-12","2023-06-13","2023-06-14","2023-06-15","2023-06-16","2023-06-19","2023-06-20","2023-06-21","2023-06-22","2023-06-23","2023-06-26","2023-06-27","2023-06-28","2023-06-29","2023-06-30","2023-07-03","2023-07-04","2023-07-05","2023-07-06"]},
   "axis":{"orient":"bottom","values":["2022-07-04","2022-07-11","2022-07-18","2022-07-25","2022-08-01","2022-08-08","2022-08-16","2022-08-22","2022-08-29","2022-09-05","2022-09-12","2022-09-19","2022-09-26","2022-10-03","2022-10-10","2022-10-17","2022-10-24","2022-10-31","2022-11-07","2022-11-14","2022-11-21","2022-11-28","2022-12-05","2022-12-12","2022-12-19","2022-12-27","2023-01-02","2023-01-09","2023-01-16","2023-01-23","2023-01-30","2023-02-06","2023-02-13","2023-02-20","2023-02-27","2023-03-06","2023-03-13","2023-03-20","2023-03-27","2023-04-03","2023-04-11","2023-04-17","2023-04-24","2023-05-02","2023-05-08","2023-05-15","2023-05-22","2023-05-29","2023-06-05","2023-06-12","2023-06-19","2023-06-26","2023-07-03"],"bandPosition":0.5,"grid":true,"gridDash":[3,3],"gridColor":"#a8a8a8","gridWidth":1,"ticks":true,"tickSize":13,"domain":true,"labelAlign":"left","labelBaseline":"top","labelPadding":-11.5,"labelOffset":2,"labelAngle":0,"labelOverlap":false,"labelFlush":false,"labelExpr":"toNumber(slice(datum.value, 8))"}},
  "y":{"field":"v","type":"quantitative","scale":{"domain":[550,14980],"nice":false,"zero":false},
   "axis":{"orient":"right","values":[1000,2000,3000,4000,5000,6000,7000,8000,9000,10000,11000,12000,13000,14000],"format":"d","tickSize":6,"labelAlign":"right","labelPadding":31,"labelOverlap":false,"grid":false,"domain":true,"minExtent":39,"maxExtent":39}},
  "y2":{"datum":550}}},
{"data":{"name":"bars"},
 "mark":{"type":"rule","color":"#0000ff","strokeOpacity":0},
 "encoding":{"x":{"field":"d","type":"ordinal",
   "axis":{"orient":"bottom","values":["2022-07-01","2022-08-01","2022-09-01","2022-10-03","2022-11-01","2022-12-01","2023-01-02","2023-02-01","2023-03-01","2023-04-03","2023-05-02","2023-06-01","2023-07-03"],"bandPosition":0.5,"grid":false,"ticks":true,"tickSize":25,"domain":false,"labelAlign":"left","labelBaseline":"top","labelPadding":-10.5,"labelOffset":2,"labelAngle":0,"labelOverlap":false,"labelFlush":false,"labelExpr":"datum.value == '2023-01-02' ? '2023' : utcFormat(toDate(datum.value), '%B')"}},
  "y":{"field":"v","type":"quantitative","scale":{"domain":[550,14980],"nice":false,"zero":false},
   "axis":{"orient":"right","tickCount":72,"labels":false,"tickSize":3,"grid":false,"domain":false,"minExtent":39,"maxExtent":39}},
  "y2":{"datum":550}}},
{"data":{"name":"rl"},
 "mark":{"type":"rule","color":"#0000ff","strokeWidth":1.3},
 "encoding":{"y":{"field":"r","type":"quantitative","scale":{"domain":[2.83,90.3],"nice":false,"zero":false},
   "axis":{"orient":"left","tickCount":88,"labels":false,"tickSize":3,"grid":false,"domain":false,"minExtent":42,"maxExtent":42}}}},
{"data":{"name":"bars"},
 "mark":{"type":"line","color":"#ff0000","strokeWidth":1},
 "encoding":{"x":{"field":"d","type":"ordinal","axis":{"orient":"bottom","offset":13,"domain":true,"ticks":false,"labels":false,"grid":false}},
  "y":{"field":"r","type":"quantitative","scale":{"domain":[2.83,90.3],"nice":false,"zero":false},
   "axis":{"orient":"left","values":[5,10,15,20,25,30,35,40,45,50,55,60,65,70,75,80,85,90],"tickSize":6,"labelPadding":4,"labelOverlap":false,"grid":false,"domain":true,"minExtent":42,"maxExtent":42}}}}
]
}
]
}
